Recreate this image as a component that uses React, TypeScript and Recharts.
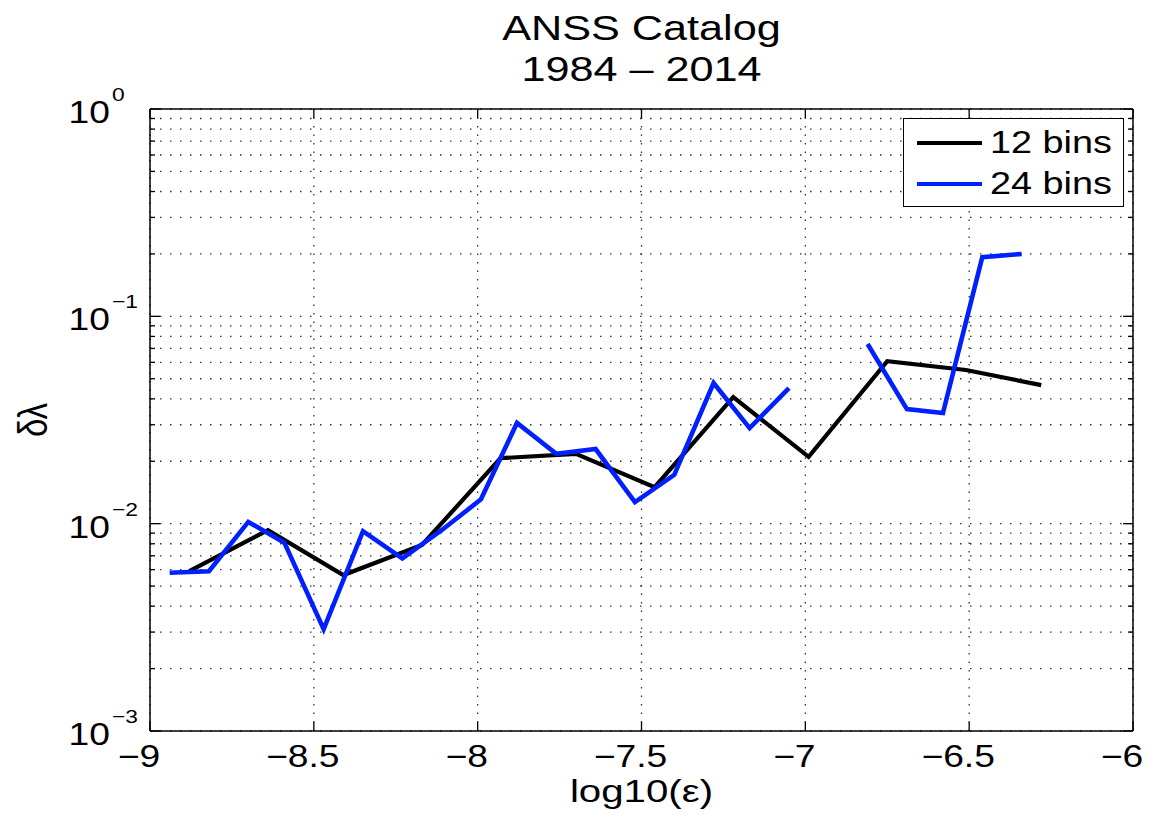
import React from "react";
import { CartesianGrid, Label, Legend, Line, LineChart, XAxis, YAxis } from "recharts";

// 12-bin and 24-bin estimates of δλ against log10(ε)
const bins12X = [-8.88, -8.64, -8.41, -8.17, -7.93, -7.7, -7.46, -7.22, -6.99, -6.75, -6.51, -6.28];
const bins12Y = [0.0059, 0.0093, 0.00565, 0.0079, 0.0207, 0.0217, 0.015, 0.0408, 0.021, 0.0608, 0.0551, 0.0466];

const bins24X = [
  -8.94, -8.82, -8.7, -8.59, -8.47, -8.35, -8.23, -8.11, -7.99, -7.88, -7.76, -7.64,
  -7.52, -7.4, -7.28, -7.17, -7.05, -6.93, -6.81, -6.69, -6.58, -6.46, -6.34,
];
const bins24Y = [
  0.0058, 0.0059, 0.0102, 0.0081, 0.0031, 0.0092, 0.0068, 0.0093, 0.0131, 0.0306, 0.0217, 0.0229,
  0.0127, 0.0172, 0.0477, 0.0289, 0.0451, null, 0.0735, 0.0357, 0.0342, 0.193, 0.2,
];

const xTicks = [-9, -8.5, -8, -7.5, -7, -6.5, -6];
const yTicks = [
  0.001, 0.002, 0.003, 0.004, 0.005, 0.006, 0.007, 0.008, 0.009,
  0.01, 0.02, 0.03, 0.04, 0.05, 0.06, 0.07, 0.08, 0.09,
  0.1, 0.2, 0.3, 0.4, 0.5, 0.6, 0.7, 0.8, 0.9, 1,
];

const bins12 = bins12X.map((x, i) => ({ x, y: bins12Y[i] }));
const bins24 = bins24X.map((x, i) => ({ x, y: bins24Y[i] }));

const FONT = '"Liberation Sans", Arial, Helvetica, sans-serif';
const SX = 1.2; // the original figure is stretched sideways
const BLUE = "#0020ff";

const isDecade = (v: number) => Math.abs(Math.log10(v) - Math.round(Math.log10(v))) < 1e-9;
const fmtX = (v: number) => (v < 0 ? "\u2212" + String(-v) : String(v));
const fmtExp = (v: number) => {
  const e = Math.round(Math.log10(v));
  return e < 0 ? "\u2212" + String(-e) : String(e);
};

function LeftTick({ x, y, payload }: any) {
  const v = payload.value;
  const dec = isDecade(v);
  return (
    <g>
      <line x1={x} x2={x + (dec ? 10 : 5)} y1={y} y2={y} stroke="#000" strokeWidth={1.3} />
      {dec && (
        <>
          <text transform={`translate(${x - 40},${y + 14}) scale(${SX},1)`} textAnchor="end" fontSize={31} fill="#000">
            10
          </text>
          <text transform={`translate(${x - 38},${y - 8}) scale(${SX},1)`} fontSize={19} fill="#000">
            {fmtExp(v)}
          </text>
        </>
      )}
    </g>
  );
}

function RightTick({ x, y, payload }: any) {
  const len = isDecade(payload.value) ? 10 : 5;
  return <line x1={x} x2={x - len} y1={y} y2={y} stroke="#000" strokeWidth={1.3} />;
}

function BottomTick({ x, y, payload }: any) {
  return (
    <g>
      <line x1={x} x2={x} y1={y} y2={y - 9} stroke="#000" strokeWidth={1.3} />
      <text transform={`translate(${x - 11},${y + 36}) scale(${SX},1)`} textAnchor="middle" fontSize={31} fill="#000">
        {fmtX(payload.value)}
      </text>
    </g>
  );
}

function TopTick({ x, y }: any) {
  return <line x1={x} x2={x} y1={y} y2={y + 9} stroke="#000" strokeWidth={1.3} />;
}

function LegendBox({ payload }: any) {
  return (
    <div
      style={{
        width: 221,
        height: 89,
        boxSizing: "border-box",
        border: "1.5px solid #000",
        background: "#fff",
        position: "relative",
        fontFamily: FONT,
      }}
    >
      {(payload || []).map((e: any, i: number) => (
        <div key={e.value} style={{ position: "absolute", left: 0, top: 4 + i * 41, height: 40, width: "100%" }}>
          <svg width={80} height={40} style={{ position: "absolute", left: 0, top: 0 }}>
            <line x1={13} x2={78} y1={20} y2={20} stroke={e.color} strokeWidth={4} />
          </svg>
          <span
            style={{
              position: "absolute",
              left: 86,
              top: 20,
              transform: `translateY(-50%) scaleX(${SX})`,
              transformOrigin: "left center",
              fontSize: 31.5,
              lineHeight: 1,
              whiteSpace: "nowrap",
              color: "#000",
            }}
          >
            {e.value}
          </span>
        </div>
      ))}
    </div>
  );
}

export default function App() {
  return (
    <div style={{ position: "absolute", left: 0, top: 0, width: 1151, height: 815, background: "#fff", fontFamily: FONT }}>
      <LineChart width={1151} height={815} margin={{ top: 0, right: 0, bottom: 0, left: 0 }}>
        <CartesianGrid vertical={false} stroke="#333" strokeWidth={1.3} strokeDasharray="1.5 8.5" />
        <CartesianGrid horizontal={false} stroke="#333" strokeWidth={1.3} strokeDasharray="1.5 7" />
        <XAxis
          dataKey="x"
          type="number"
          domain={[-9, -6]}
          ticks={xTicks}
          interval={0}
          allowDataOverflow
          height={84}
          tickSize={0}
          tickMargin={0}
          axisLine={{ stroke: "#000", strokeWidth: 1.5 }}
          tickLine={false}
          tick={(p: any) => <BottomTick {...p} />}
        >
          <Label
            content={(p: any) => {
              const vb = p.viewBox || { x: 150, y: 731, width: 983 };
              return (
                <text
                  transform={`translate(${vb.x + vb.width / 2},${vb.y + 71}) scale(1.32,1)`}
                  textAnchor="middle"
                  fontSize={30.5}
                  fill="#000"
                >
                  log10(ε)
                </text>
              );
            }}
          />
        </XAxis>
        <XAxis
          xAxisId="top"
          orientation="top"
          dataKey="x"
          type="number"
          domain={[-9, -6]}
          ticks={xTicks}
          interval={0}
          allowDataOverflow
          height={109}
          tickSize={0}
          tickMargin={0}
          axisLine={{ stroke: "#000", strokeWidth: 1.5 }}
          tickLine={false}
          tick={(p: any) => <TopTick {...p} />}
        >
          <Label
            content={(p: any) => {
              const vb = p.viewBox || { x: 150, y: 0, width: 983 };
              const cx = vb.x + vb.width / 2;
              return (
                <g>
                  <text transform={`translate(${cx},40) scale(${SX},1)`} textAnchor="middle" fontSize={36} fill="#000">
                    ANSS Catalog
                  </text>
                  <text transform={`translate(${cx},81) scale(${SX},1)`} textAnchor="middle" fontSize={36} fill="#000">
                    1984 – 2014
                  </text>
                </g>
              );
            }}
          />
        </XAxis>
        <YAxis
          type="number"
          scale="log"
          domain={[0.001, 1]}
          ticks={yTicks}
          interval={0}
          allowDataOverflow
          width={150}
          tickSize={0}
          tickMargin={0}
          axisLine={{ stroke: "#000", strokeWidth: 1.5 }}
          tickLine={false}
          tick={(p: any) => <LeftTick {...p} />}
        >
          <Label
            content={(p: any) => {
              const vb = p.viewBox || { x: 0, y: 109, height: 622 };
              return (
                <text
                  transform={`translate(47,${vb.y + vb.height / 2}) rotate(-90) scale(1,1.25)`}
                  textAnchor="middle"
                  fontSize={33}
                  fill="#000"
                >
                  δλ
                </text>
              );
            }}
          />
        </YAxis>
        <YAxis
          yAxisId="right"
          orientation="right"
          type="number"
          scale="log"
          domain={[0.001, 1]}
          ticks={yTicks}
          interval={0}
          allowDataOverflow
          width={18}
          tickSize={0}
          tickMargin={0}
          axisLine={{ stroke: "#000", strokeWidth: 1.5 }}
          tickLine={false}
          tick={(p: any) => <RightTick {...p} />}
        />
        <Legend
          layout="vertical"
          align="center"
          verticalAlign="middle"
          wrapperStyle={{ left: 903, top: 118, width: 221, height: 89 }}
          content={(p: any) => <LegendBox {...p} />}
        />
        <Line
          data={bins12}
          dataKey="y"
          name="12 bins"
          type="linear"
          stroke="#000"
          strokeWidth={4.2}
          dot={false}
          activeDot={false}
          isAnimationActive={false}
        />
        <Line
          data={bins24}
          dataKey="y"
          name="24 bins"
          type="linear"
          stroke={BLUE}
          strokeWidth={4.6}
          dot={false}
          activeDot={false}
          connectNulls={false}
          isAnimationActive={false}
        />
      </LineChart>
    </div>
  );
}
